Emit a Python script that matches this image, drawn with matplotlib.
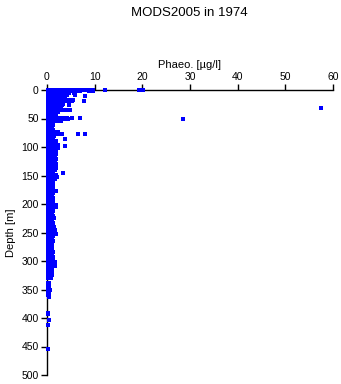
import matplotlib
matplotlib.use("Agg")
import matplotlib.pyplot as plt

plt.rcParams['font.family'] = ['Liberation Sans', 'DejaVu Sans']

title = "MODS2005 in 1974"
x_label = "Phaeo. [\u00b5g/l]"
y_label = "Depth [m]"
x_ticks = [0, 10, 20, 30, 40, 50, 60]
y_ticks = [0, 50, 100, 150, 200, 250, 300, 350, 400, 450, 500]

# depth of each sample row [m] and the phaeo readings seen on that row
row_depths = [0, 2, 5, 8, 11, 14, 17, 20, 24, 27, 31, 35, 38, 42, 46, 49, 51, 54,
              58, 62, 66, 70, 74, 77, 80, 85, 86, 90, 94, 97, 99, 101, 105, 109,
              113, 117, 121, 125, 129, 133, 137, 141, 145, 149, 153, 157, 161,
              165, 169, 173, 177, 181, 185, 189, 193, 197, 201, 205, 209, 213,
              217, 221, 225, 229, 233, 237, 241, 245, 249, 253, 257, 261, 265,
              269, 273, 277, 281, 285, 289, 293, 297, 301, 305, 309, 313, 317,
              321, 325, 329, 339, 343, 347, 351, 355, 359, 364, 391, 393, 403,
              413, 454]
row_phaeo = [
    [0.3, 0.8, 1.3, 1.8, 2.3, 2.8, 3.3, 3.8, 4.3, 4.8, 5.3, 5.8, 6.3, 6.8, 7.5, 8.3, 9.2, 9.7, 12.2, 19.3, 20.2],
    [0.3, 0.9, 1.5, 2.1, 2.7, 3.3, 3.9, 4.5, 5.1, 5.6, 6.1, 7, 8.8, 9.7],
    [0.3, 0.9, 1.5, 2.1, 2.7, 3.3, 3.9, 4.4, 4.7, 5.6, 5.9],
    [0.3, 0.9, 1.5, 2.1, 2.7, 3.3, 3.9, 4.3, 5.8],
    [0.3, 0.9, 1.5, 2.1, 2.7, 3.3, 3.8, 8.0],
    [0.3, 0.9, 1.5, 2.1, 2.7, 3.2, 3.7],
    [0.3, 0.9, 1.5, 2.1, 2.7, 3.3, 3.9, 4.4, 4.9, 5.5],
    [0.3, 0.9, 1.5, 2.1, 2.7, 3.3, 3.9, 4.4, 5.2, 7.7],
    [0.3, 0.9, 1.5, 2.1, 2.7, 3.1, 3.4],
    [0.3, 0.9, 1.5, 2.1, 2.7, 3.2, 4.6],
    [0.3, 0.9, 1.5, 2.1, 2.6, 3.0, 57.4],
    [0.3, 0.9, 1.5, 2.1, 2.7, 3.3, 3.9, 4.4, 4.8],
    [0.3, 0.9, 1.5, 2.1, 2.4],
    [0.3, 0.9, 1.4, 1.7],
    [0.3, 0.9, 1.5, 1.8],
    [0.3, 0.9, 1.5, 2.1, 2.7, 3.3, 3.9, 4.3, 5.2, 6.9],
    [0.3, 0.9, 1.5, 2.1, 2.7, 3.3, 3.9, 4.4, 28.6],
    [0.3, 0.9, 1.5, 2.1, 2.6, 3.0],
    [0.3, 0.9, 1.2],
    [0.3, 0.9, 1.2],
    [0.3, 0.9, 1.1],
    [0.3, 0.9, 1.3],
    [0.3, 0.9, 1.5, 2.1, 2.4],
    [0.3, 0.9, 1.5, 2.1, 2.6, 3.1, 6.6, 8.0],
    [0.3, 0.9, 1.3, 1.5],
    [0.3, 0.9, 1.2],
    [3.8],
    [0.3, 0.9, 1.5, 1.8],
    [0.3, 0.9, 1.4, 1.7],
    [0.3, 0.9, 1.5, 2.1, 2.4],
    [3.8],
    [0.3, 0.9, 1.5, 2.1, 2.4],
    [0.3, 0.9, 1.5, 1.8],
    [0.3, 0.9, 1.4, 1.7],
    [0.3, 0.9, 1.5, 1.9],
    [0.3, 0.9, 1.3, 1.6],
    [0.3, 0.9, 1.5, 1.8],
    [0.3, 0.9, 1.3, 1.6],
    [0.3, 0.9, 1.5, 1.9],
    [0.3, 0.9, 1.4, 1.7],
    [0.3, 0.9, 1.5, 1.8],
    [0.3, 0.9, 1.3, 1.6],
    [0.3, 0.9, 1.3, 3.4],
    [0.3, 0.9, 1.5, 1.8],
    [0.3, 0.9, 1.5, 2.0],
    [0.3, 0.9, 1.4, 1.7],
    [0.3, 0.9, 1.3],
    [0.3, 0.9, 1.1],
    [0.3, 0.9, 1.3],
    [0.3, 0.9, 1.2],
    [0.3, 0.9, 1.5, 1.8],
    [0.3, 0.9, 1.2],
    [0.3, 0.9, 1.1],
    [0.3, 0.9, 1.2],
    [0.3, 0.9, 1.3],
    [0.3, 0.9, 1.2],
    [0.3, 0.9, 1.5, 1.8],
    [0.3, 0.9, 1.5, 1.9],
    [0.3, 0.9, 1.3],
    [0.3, 0.9, 1.2],
    [0.3, 0.9, 1.0],
    [0.3, 0.9, 1.3],
    [0.3, 0.9, 1.4],
    [0.3, 0.9, 1.1],
    [0.3, 0.9, 1.3],
    [0.3, 0.9, 1.2],
    [0.3, 0.9, 1.4],
    [0.3, 0.9, 1.4, 1.7],
    [0.3, 0.9, 1.3, 1.6],
    [0.3, 0.9, 1.5, 1.8],
    [0.3, 0.9, 1.2],
    [0.3, 0.9, 1.1],
    [0.3, 0.9, 1.2],
    [0.3, 0.9, 1.0],
    [0.3, 0.9, 1.1],
    [0.3, 0.9, 1.0],
    [0.3, 0.9, 1.1],
    [0.3, 0.9, 1.2],
    [0.3, 0.9, 1.1],
    [0.3, 0.9, 1.2],
    [0.3, 0.9, 1.3],
    [0.3, 0.9, 1.4, 1.7],
    [0.3, 0.9, 1.2],
    [0.3, 0.9, 1.3, 1.6],
    [0.3, 0.9, 1.0],
    [0.3, 0.9, 1.0],
    [0.3, 0.9, 1.0],
    [0.3, 0.9, 1.0],
    [0.3, 0.6, 0.9],
    [0.2, 0.5],
    [0.2, 0.4],
    [0.2, 0.5],
    [0.2, 0.6],
    [0.2, 0.5],
    [0.2, 0.4],
    [0.5],
    [0.3],
    [0.2],
    [0.5],
    [0.2],
    [0.2],
]

depth = []
phaeo = []
for d, vals in zip(row_depths, row_phaeo):
    for v in vals:
        depth.append(d)
        phaeo.append(v)

fig = plt.figure(figsize=(3.41, 3.84), dpi=100)
ax = fig.add_axes([47 / 341, 1 - 375 / 384, 286 / 341, 285 / 384])

ax.plot(phaeo, depth, linestyle='none', marker='s', markersize=2.3,
        color='#0000ff', markeredgewidth=0, clip_on=False, zorder=3)

ax.set_xlim(0, 60)
ax.set_ylim(500, 0)
ax.set_xticks(x_ticks)
ax.set_yticks(y_ticks)
ax.xaxis.tick_top()
ax.xaxis.set_label_position('top')
ax.tick_params(axis='both', direction='out', length=4, width=1, labelsize=7.5, pad=2)
for side in ['right', 'bottom']:
    ax.spines[side].set_visible(False)
for side in ['left', 'top']:
    ax.spines[side].set_linewidth(1)
ax.set_xlabel(x_label, fontsize=8, labelpad=3)
ax.set_ylabel(y_label, fontsize=8, labelpad=4)
fig.text(0.555, 1 - 13 / 384, title, ha='center', va='center', fontsize=9.5)

fig.savefig('out.png', dpi=100)
